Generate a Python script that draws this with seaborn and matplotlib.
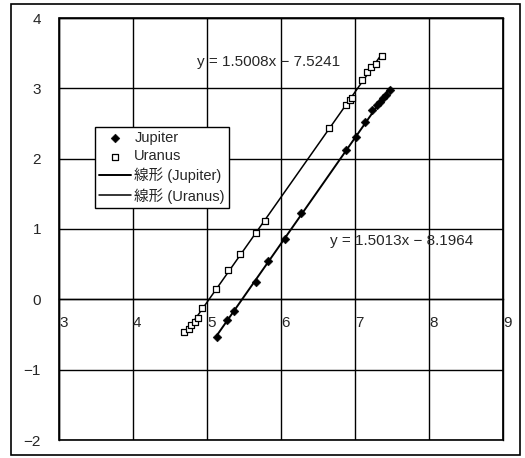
import numpy as np
import pandas as pd
import matplotlib
matplotlib.use('Agg')
import matplotlib.pyplot as plt
import seaborn as sns
from matplotlib.patches import Rectangle

# values
jupiter_x = [5.13, 5.27, 5.36, 5.66, 5.83, 6.05, 6.27, 6.88, 7.02, 7.14, 7.23, 7.30, 7.34, 7.38, 7.42, 7.47]
jupiter_y = [-0.53, -0.30, -0.17, 0.25, 0.55, 0.86, 1.23, 2.12, 2.31, 2.52, 2.69, 2.76, 2.81, 2.86, 2.90, 2.97]
uranus_x = [4.69, 4.75, 4.79, 4.84, 4.88, 4.93, 5.12, 5.29, 5.44, 5.66, 5.78,
            6.65, 6.88, 6.93, 6.96, 7.10, 7.16, 7.22, 7.28, 7.36]
uranus_y = [-0.46, -0.42, -0.37, -0.32, -0.27, -0.12, 0.15, 0.41, 0.64, 0.94, 1.11,
            2.43, 2.76, 2.83, 2.86, 3.12, 3.23, 3.30, 3.34, 3.46]
eq_uranus = 'y = 1.5008x − 7.5241'
eq_jupiter = 'y = 1.5013x − 8.1964'
x_ticks = [3, 4, 5, 6, 7, 8, 9]
y_ticks = [-2, -1, 0, 1, 2, 3, 4]

sns.set_style('white')
plt.rcParams['font.family'] = ['Liberation Sans', 'Noto Sans CJK JP', 'DejaVu Sans']
plt.rcParams['axes.unicode_minus'] = True

df_j = pd.DataFrame({'x': jupiter_x, 'y': jupiter_y})
df_u = pd.DataFrame({'x': uranus_x, 'y': uranus_y})

fig = plt.figure(figsize=(5.25, 4.58), dpi=100)
ax = fig.add_axes([59 / 525, 18 / 458, 444 / 525, 422 / 458])

# outer chart frame
fig.patches.append(Rectangle((11 / 525, 3 / 458), 509 / 525, 451 / 458, transform=fig.transFigure,
                             fill=False, edgecolor='black', linewidth=1.2))

sns.scatterplot(data=df_j, x='x', y='y', ax=ax, marker='D', s=20, color='black',
                edgecolor='black', label='Jupiter', zorder=3)
sns.scatterplot(data=df_u, x='x', y='y', ax=ax, marker='s', s=13, facecolor='white',
                edgecolor='black', linewidth=0.9, label='Uranus', zorder=3)
sns.regplot(data=df_j, x='x', y='y', ax=ax, scatter=False, ci=None, color='black',
            label='線形 (Jupiter)', line_kws={'linewidth': 1.4})
sns.regplot(data=df_u, x='x', y='y', ax=ax, scatter=False, ci=None, color='black',
            label='線形 (Uranus)', line_kws={'linewidth': 1.1})

ax.set_xlim(3, 9)
ax.set_ylim(-2, 4)
ax.set_xticks(x_ticks)
ax.set_yticks(y_ticks)
ax.grid(True, color='black', linewidth=1.0)
ax.set_axisbelow(True)
ax.set_xlabel('')
ax.set_ylabel('')

# x axis crosses at y = 0
ax.spines['bottom'].set_position(('data', 0))
for s in ['top', 'right', 'left', 'bottom']:
    ax.spines[s].set_color('black')
    ax.spines[s].set_linewidth(1.0)
ax.add_patch(Rectangle((0, 0), 1, 1, transform=ax.transAxes, fill=False,
                       edgecolor='black', linewidth=1.2, zorder=5, clip_on=False))
ax.tick_params(axis='x', length=0, pad=12, labelsize=11)
ax.tick_params(axis='y', length=0, pad=13, labelsize=11)
for lbl in ax.get_xticklabels():
    lbl.set_horizontalalignment('left')

ax.text(4.86, 3.37, eq_uranus, fontsize=11, va='center', ha='left')
ax.text(6.66, 0.83, eq_jupiter, fontsize=11, va='center', ha='left')

leg = ax.legend(loc='lower left', bbox_to_anchor=(0.081, 0.55), fontsize=10.5,
                frameon=True, fancybox=False, edgecolor='black', framealpha=1,
                borderpad=0.3, labelspacing=0.3, handlelength=2.2, handletextpad=0.2,
                borderaxespad=0)
leg.get_frame().set_linewidth(1.0)

fig.savefig('out.png', dpi=100)
